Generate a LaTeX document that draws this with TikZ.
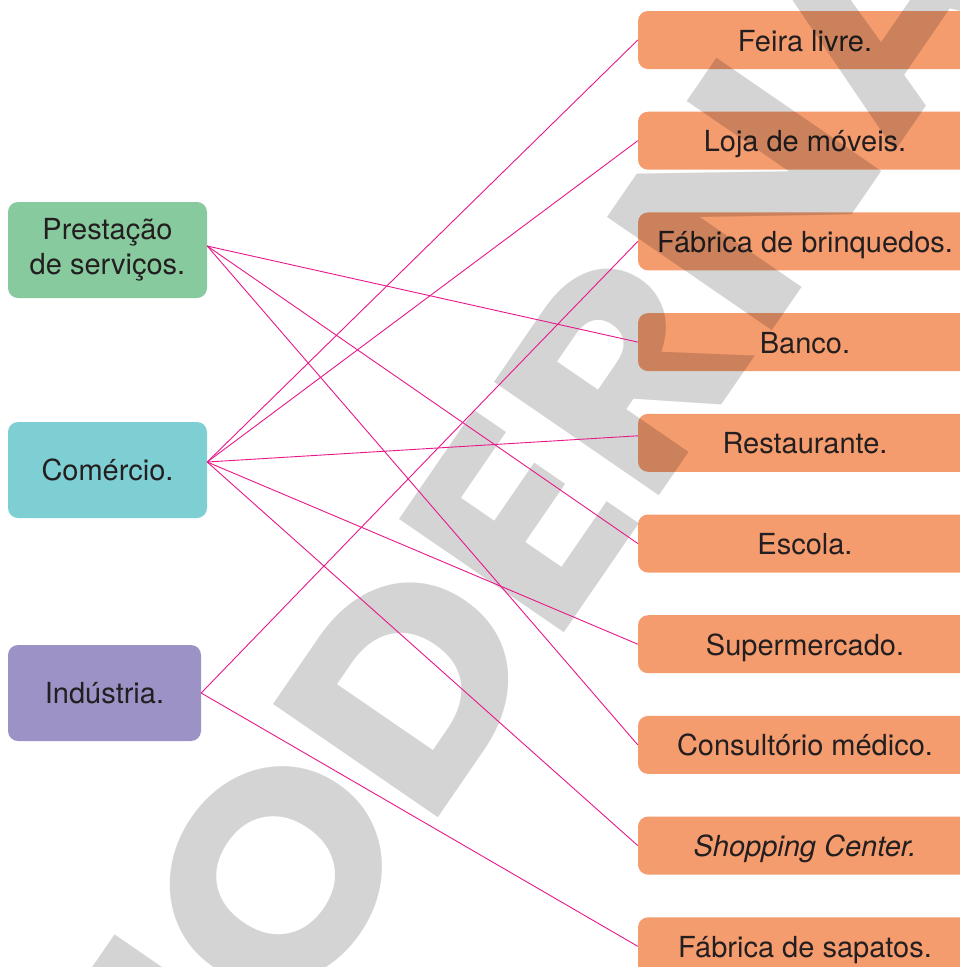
\documentclass[tikz,border=0pt]{standalone}
\usepackage{fontspec}
\setmainfont{TeX Gyre Heros}
\newfontfamily\brandfont{Poppins}
\usetikzlibrary{positioning}

\definecolor{servgreen}{HTML}{86CA9E}
\definecolor{comteal}{HTML}{7ECFD3}
\definecolor{indpurple}{HTML}{9D92C6}
\definecolor{boxorange}{HTML}{F59C6E}
\definecolor{linkpink}{HTML}{E8178A}
\definecolor{textdark}{HTML}{231F20}

\begin{document}
\begin{tikzpicture}[
        x=1pt, y=-1pt,
        node distance=42.3pt,
        sector/.style={rectangle, rounded corners=10pt, minimum width=199pt, minimum height=96pt, inner sep=0pt, align=center, text=textdark, font=\fontsize{29}{35}\selectfont},
        place/.style={rectangle, rounded corners=10pt, fill=boxorange, minimum width=334pt, minimum height=58pt, inner sep=0pt, text height=22pt, text depth=0pt, text=textdark, font=\fontsize{29}{35}\selectfont},
        watermark/.style={inner sep=0pt, text=black, text opacity=0.17, font=\brandfont\bfseries\fontsize{285}{285}\selectfont},
        link/.style={linkpink, line width=0.9pt}
    ]
    \useasboundingbox (0,0) rectangle (960,967);
    \clip (0,0) rectangle (960,967);

    \node[sector, fill=servgreen] (Serv) at (107.5,250) {Prestação\\de serviços.};
    \node[sector, fill=comteal] (Com) at (107.5,470) {Comércio.};
    \node[sector, fill=indpurple, minimum width=193pt] (Ind) at (104.5,693) {Indústria.};

    \node[place] (Feira) at (805,40) {Feira livre.};
    \node[place, below=of Feira] (Loja) {Loja de móveis.};
    \node[place, below=of Loja] (Brinq) {Fábrica de brinquedos.};
    \node[place, below=of Brinq] (Banco) {Banco.};
    \node[place, below=of Banco] (Rest) {Restaurante.};
    \node[place, below=of Rest] (Escola) {Escola.};
    \node[place, below=of Escola] (Super) {Supermercado.};
    \node[place, below=of Super] (Consult) {Consultório médico.};
    \node[place, below=of Consult] (Shop) {\itshape Shopping Center.};
    \node[place, below=of Shop] (Sapatos) {Fábrica de sapatos.};

    \begin{scope}[shift={(493,560)}, rotate=55.5, xscale=1.08]
        \node[watermark, transform shape] (Brand) at (0,0) {MODERNA};
    \end{scope}

    \draw[link] ([yshift=4pt]Serv.east) -- (Banco.west);
    \draw[link] ([yshift=4pt]Serv.east) -- (Escola.west);
    \draw[link] ([yshift=4pt]Serv.east) -- (Consult.west);
    \draw[link] ([yshift=8pt]Com.east) -- (Feira.west);
    \draw[link] ([yshift=8pt]Com.east) -- (Loja.west);
    \draw[link] ([yshift=8pt]Com.east) -- ([yshift=7pt]Rest.west);
    \draw[link] ([yshift=8pt]Com.east) -- (Super.west);
    \draw[link] ([yshift=8pt]Com.east) -- (Shop.west);
    \draw[link] (Ind.east) -- (Brinq.west);
    \draw[link] (Ind.east) -- (Sapatos.west);

\end{tikzpicture}
\end{document}
